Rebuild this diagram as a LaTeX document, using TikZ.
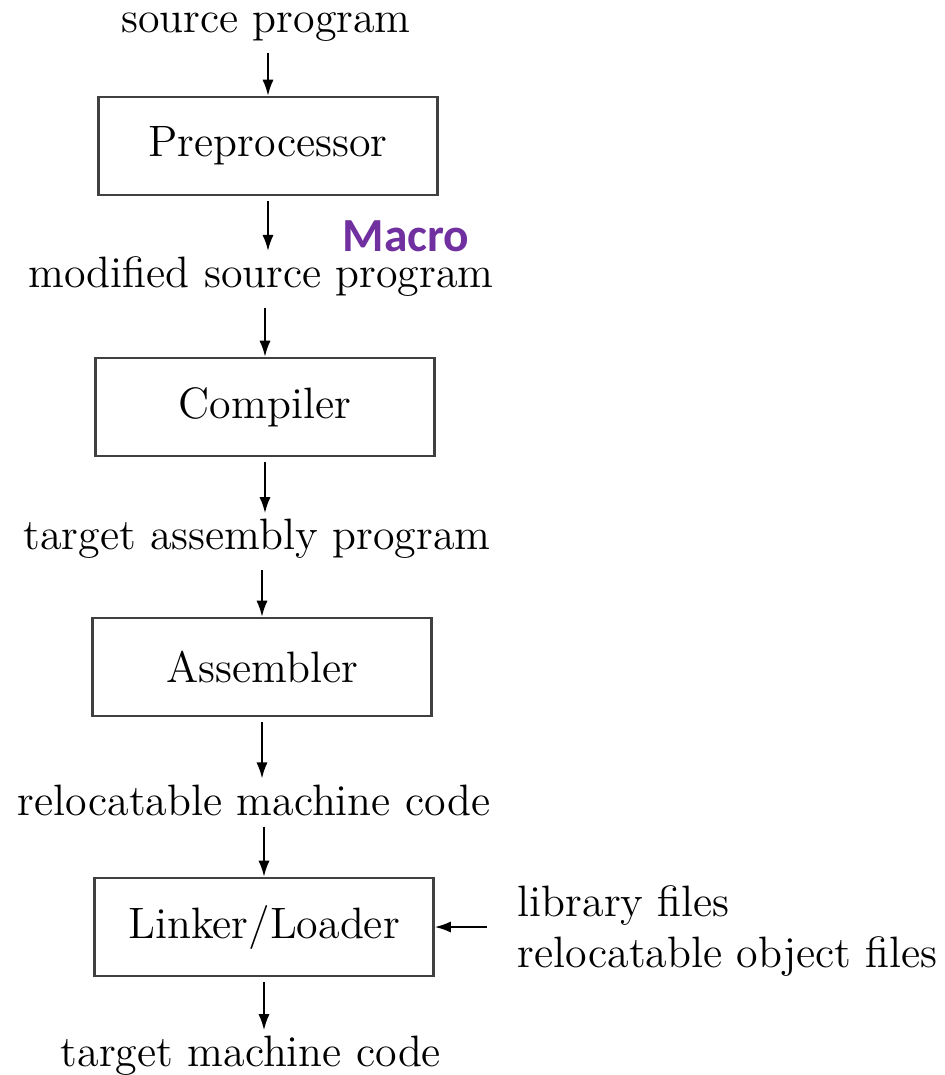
\documentclass[tikz,border=0pt]{standalone}
\usepackage{fontspec}
\newfontfamily\macrofont{Carlito}
\usetikzlibrary{arrows.meta}

\begin{document}
\begin{tikzpicture}[x=0.01cm,y=-0.01cm,
    phase/.style={draw=black!75, line width=0.65pt, minimum width=3.39cm, minimum height=0.98cm, inner sep=0pt},
    prog/.style={inner sep=1.5pt},
    flow/.style={-{Latex[length=4.6pt,width=3.2pt]}, line width=0.6pt, shorten <=1.5pt}]
  \definecolor{macropurple}{RGB}{112, 48, 160}
  \fontsize{12.5}{14.5}\selectfont
  \useasboundingbox (0,0) rectangle (945,1075);

  % Programmes et phases
  \node[prog] (src) at (266,27) {source program};
  \node[phase] (pre) at (268,146) {Preprocessor};
  \node[prog] (mod) at (261,277) {modified source program};
  \node[phase] (cmp) at (265,407) {Compiler};
  \node[prog] (asm) at (257,539) {target assembly program};
  \node[phase] (ass) at (262,667) {Assembler};
  \node[prog] (rel) at (254,800) {relocatable machine code};
  \node[phase] (lnk) at (264,927) {Linker/Loader};
  \node[prog] (tgt) at (251,1056) {target machine code};

  % Fichiers en entrée
  \node[prog, anchor=west, align=left] (lib) at (512,931) {library files\\relocatable object files};

  % Annotation
  \node[text=macropurple, inner sep=0pt, font=\macrofont\bfseries\fontsize{13.5}{15}\selectfont] (mac) at (406,236) {Macro};

  % Flèches
  \draw[flow] (pre.north |- src.south) -- (pre.north);
  \draw[flow] (pre.south) -- (pre.south |- mod.north);
  \draw[flow] (cmp.north |- mod.south) -- (cmp.north);
  \draw[flow] (cmp.south) -- (cmp.south |- asm.north);
  \draw[flow] (ass.north |- asm.south) -- (ass.north);
  \draw[flow] (ass.south) -- (ass.south |- rel.north);
  \draw[flow] (lnk.north |- rel.south) -- (lnk.north);
  \draw[flow] (lnk.south) -- (lnk.south |- tgt.north);
  \draw[flow] (lib.west |- lnk.east) ++(-20,0) coordinate (libin) (libin) -- (lnk.east);
\end{tikzpicture}
\end{document}
